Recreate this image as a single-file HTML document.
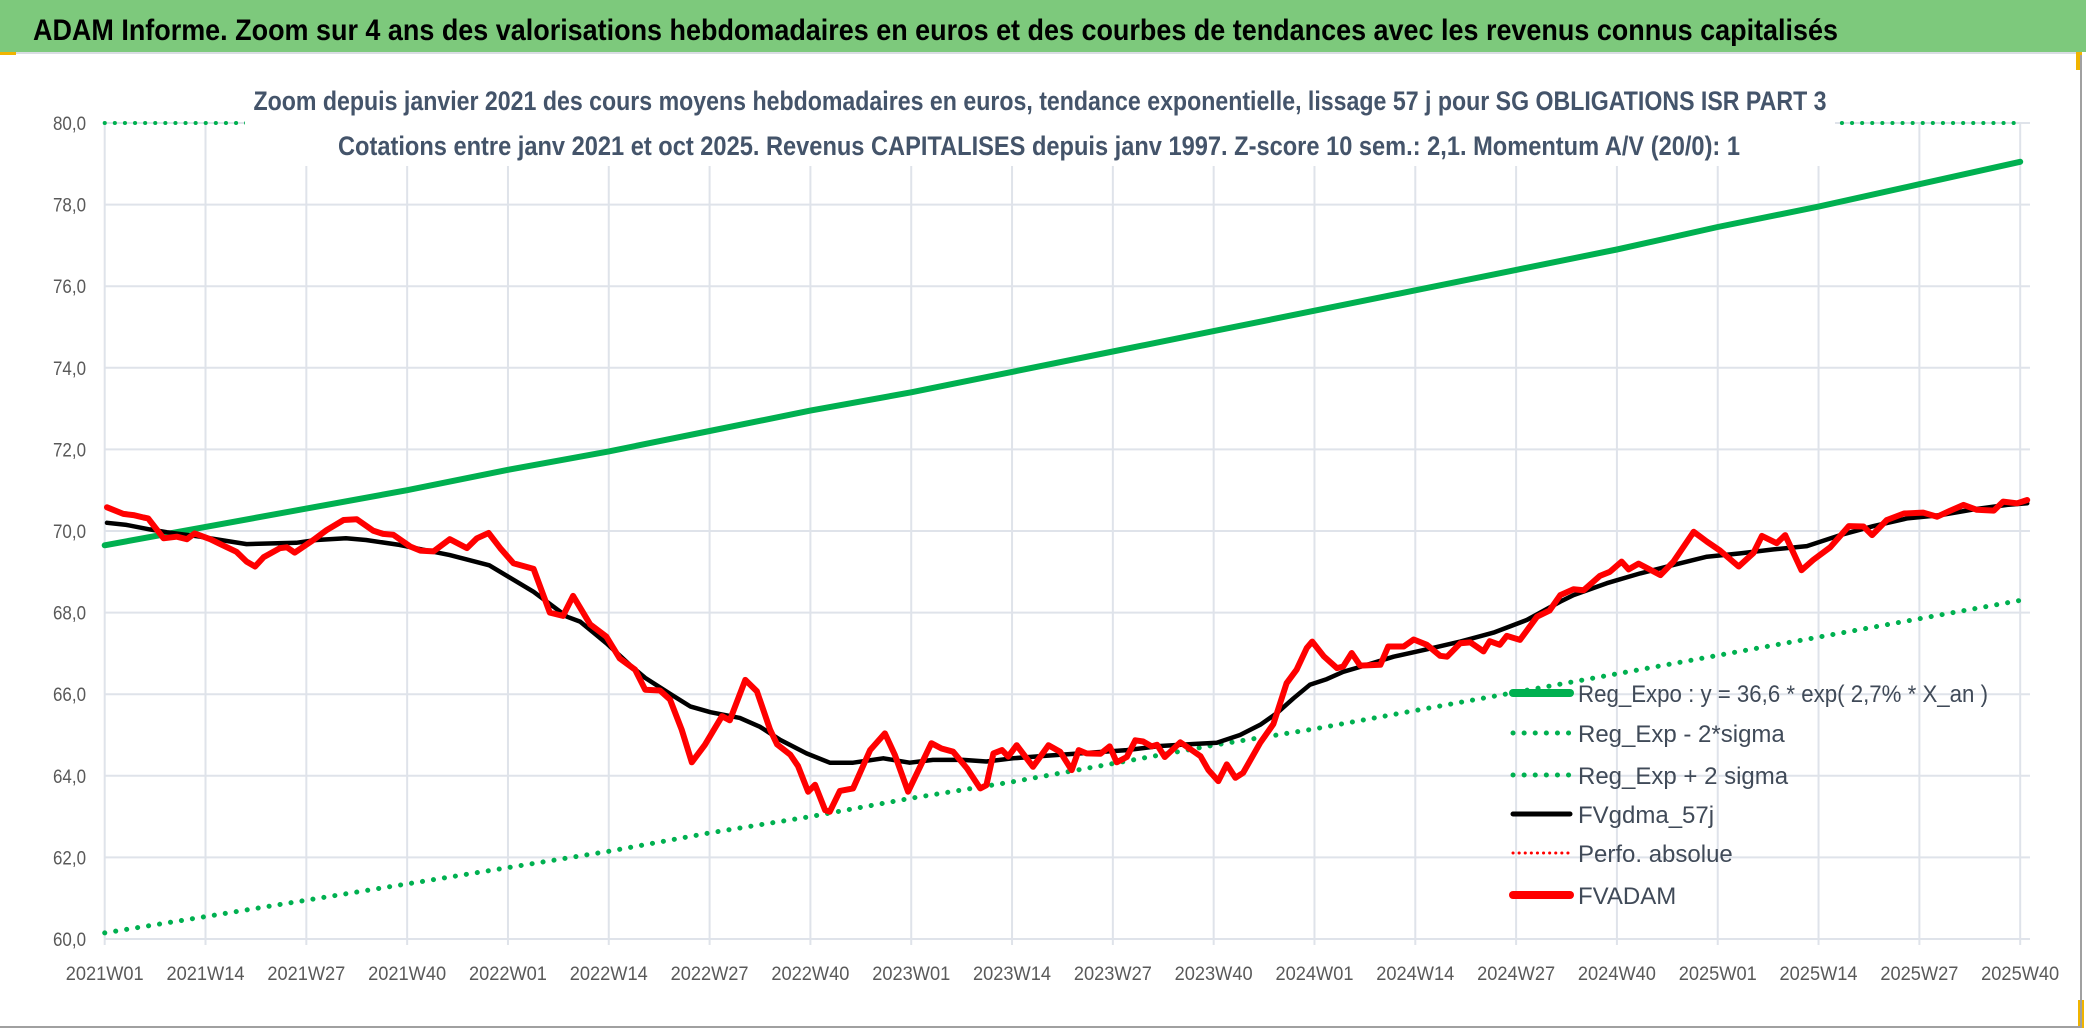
<!DOCTYPE html>
<html><head><meta charset="utf-8"><style>
html,body{margin:0;padding:0;background:#fff;width:2086px;height:1031px;overflow:hidden}
svg{display:block;font-family:"Liberation Sans Narrow","Liberation Sans",sans-serif}
</style></head><body>
<svg id="chart" width="2086" height="1031" viewBox="0 0 2086 1031">
<rect x="0" y="0" width="2086" height="52" fill="#7dc97c"/>
<line x1="0" y1="53" x2="2080" y2="53" stroke="#d9dde3" stroke-width="2"/>
<rect x="0" y="52" width="16" height="3" fill="#f0b400"/>
<rect x="2076" y="52" width="6" height="18" fill="#f0b400"/>
<rect x="2078" y="1000" width="6" height="28" fill="#f0b400"/>
<line x1="0" y1="1027" x2="2080" y2="1027" stroke="#a0a0a0" stroke-width="2"/>
<line x1="2081" y1="55" x2="2081" y2="1028" stroke="#a0a0a0" stroke-width="2"/>
<text x="33" y="40" font-size="30" font-weight="bold" fill="#000" textLength="1805" lengthAdjust="spacingAndGlyphs">ADAM Informe. Zoom sur 4 ans des valorisations hebdomadaires en euros et des courbes de tendances avec les revenus connus capitalisés</text>
<g id="grid"></g><g id="axes"></g><g id="series"></g>
<rect x="245" y="62" width="1590" height="104" fill="#fff"/>
<text x="1040" y="110" text-anchor="middle" font-size="27" font-weight="bold" fill="#44546a" textLength="1573" lengthAdjust="spacingAndGlyphs">Zoom depuis janvier 2021 des cours moyens hebdomadaires en euros, tendance exponentielle, lissage 57 j pour SG OBLIGATIONS ISR PART 3</text>
<text x="1039" y="155" text-anchor="middle" font-size="27" font-weight="bold" fill="#44546a" textLength="1402" lengthAdjust="spacingAndGlyphs">Cotations entre janv 2021 et oct 2025. Revenus CAPITALISES depuis janv 1997. Z-score 10 sem.: 2,1. Momentum A/V (20/0): 1</text>
<g id="legend"></g>
</svg>
<script>
const tickLabels=["2021W01","2021W14","2021W27","2021W40","2022W01","2022W14","2022W27","2022W40","2023W01","2023W14","2023W27","2023W40","2024W01","2024W14","2024W27","2024W40","2025W01","2025W14","2025W27","2025W40"];
const yTicks=[60,62,64,66,68,70,72,74,76,78,80];
const regExpo=[69.65,70.1,70.55,71.0,71.5,71.95,72.45,72.95,73.4,73.9,74.4,74.9,75.4,75.9,76.4,76.9,77.45,77.95,78.5,79.05];
const regLow=[60.15,60.55,60.95,61.35,61.75,62.15,62.6,63.0,63.45,63.85,64.3,64.75,65.15,65.6,66.05,66.5,66.95,67.4,67.85,68.3];
const regHigh=[80,80,80,80,80,80,80,80,80,80,80,80,80,80,80,80,80,80,80,80];
const redW=[0.3,2.4,3.7,5.0,5.6,7.6,9.3,10.6,11.6,13.6,14.9,17.0,18.3,19.4,20.5,22.6,23.5,24.5,26.9,28.6,30.8,32.5,34.6,35.9,37.2,39.4,40.7,42.4,44.5,46.7,48.0,49.5,51.0,52.7,55.3,57.4,59.1,60.4,62.6,64.7,66.4,68.4,69.7,71.6,72.9,74.4,75.7,77.4,79.6,80.6,82.6,84.1,85.8,86.7,88.4,89.4,90.7,91.6,92.9,93.5,94.8,96.5,98.7,100.6,101.9,103.6,106.6,107.9,109.4,111.2,112.9,113.7,114.6,115.7,116.5,117.6,119.7,121.7,123.2,124.7,125.6,126.6,128.4,129.6,130.5,131.8,132.9,133.9,135.0,135.7,136.7,138.7,140.4,141.3,142.3,143.6,144.7,145.8,146.8,149.0,150.7,152.4,153.7,155.0,155.7,157.2,158.9,159.7,160.8,161.9,164.5,165.5,167.5,168.8,170.5,172.2,173.1,174.8,176.1,177.8,178.6,179.9,180.8,182.5,184.7,186.3,187.7,189.4,190.7,192.8,194.1,195.6,196.5,197.8,200.6,202.3,204.9,206.6,208.3,210.7,212.6,213.7,215.6,216.7,218.8,220.3,222.5,224.9,226.8,227.9,229.8,232.0,234.5,236.3,238.0,239.7,241.4,243.6,244.8,246.6,247.9];
const redV=[70.58,70.42,70.39,70.33,70.31,69.82,69.86,69.80,69.94,69.80,69.68,69.49,69.25,69.13,69.36,69.58,69.60,69.47,69.78,70.02,70.27,70.29,70.01,69.93,69.91,69.62,69.52,69.50,69.80,69.58,69.82,69.95,69.58,69.21,69.07,68.00,67.92,68.41,67.71,67.41,66.88,66.60,66.11,66.09,65.87,65.13,64.33,64.76,65.46,65.36,66.35,66.07,65.13,64.77,64.52,64.24,63.61,63.78,63.16,63.12,63.63,63.69,64.63,65.04,64.51,63.61,64.80,64.67,64.59,64.18,63.69,63.77,64.55,64.63,64.47,64.75,64.22,64.75,64.59,64.14,64.63,64.55,64.54,64.72,64.33,64.46,64.87,64.84,64.72,64.76,64.46,64.82,64.60,64.48,64.15,63.87,64.28,63.95,64.07,64.81,65.27,66.27,66.60,67.13,67.29,66.93,66.64,66.68,67.01,66.70,66.72,67.17,67.17,67.34,67.21,66.94,66.92,67.25,67.27,67.05,67.30,67.21,67.43,67.33,67.90,68.05,68.43,68.57,68.55,68.90,69.00,69.25,69.06,69.20,68.92,69.25,69.98,69.74,69.52,69.13,69.46,69.88,69.70,69.90,69.04,69.29,69.60,70.12,70.11,69.90,70.27,70.43,70.45,70.35,70.50,70.64,70.52,70.50,70.72,70.68,70.76];
const blackW=[0.3,2.8,5.8,8.0,12.3,18.3,24.7,27.3,31.1,33.7,38.0,44.5,49.6,55.3,59.6,61.3,64.7,67.7,69.7,72.9,75.5,78.1,81.9,84.5,87.1,90.5,93.5,96.5,100.4,103.8,106.8,110.7,113.7,117.1,121.4,125.8,131.8,136.1,140.4,143.4,146.4,149.0,151.1,153.3,155.4,157.6,159.7,161.9,166.2,170.5,174.8,179.1,183.4,187.7,189.4,193.7,198.0,202.3,206.6,210.9,215.2,219.5,223.8,228.1,232.4,236.7,241.0,245.3,247.9];
const blackV=[70.20,70.15,70.04,69.97,69.86,69.68,69.71,69.78,69.82,69.78,69.66,69.41,69.16,68.51,67.90,67.78,67.25,66.72,66.40,66.01,65.70,65.56,65.42,65.20,64.88,64.55,64.32,64.32,64.43,64.32,64.39,64.39,64.35,64.43,64.49,64.55,64.63,64.73,64.78,64.81,65.00,65.25,65.53,65.90,66.23,66.37,66.55,66.67,66.92,67.10,67.29,67.51,67.82,68.27,68.43,68.72,68.96,69.17,69.37,69.45,69.55,69.63,69.90,70.12,70.31,70.39,70.53,70.64,70.68];
const legendLabels=["Reg_Expo : y = 36,6 * exp( 2,7% *  X_an )","Reg_Exp - 2*sigma","Reg_Exp + 2 sigma","FVgdma_57j","Perfo. absolue","FVADAM"];

const NS="http://www.w3.org/2000/svg";
const X0=104.7,PXW=7.755,Y0=939,PXV=40.8,RIGHT=2030;
const xw=w=>X0+w*PXW;
const yv=v=>Y0-(v-60)*PXV;
function mk(tag,attrs,parent){const e=document.createElementNS(NS,tag);for(const k in attrs)e.setAttribute(k,attrs[k]);parent.appendChild(e);return e;}
const grid=document.getElementById('grid'),axes=document.getElementById('axes'),series=document.getElementById('series'),legend=document.getElementById('legend');
yTicks.forEach(t=>{
  const l=mk('line',{x1:X0,x2:RIGHT,y1:yv(t),y2:yv(t),stroke:'#dfe3ea','stroke-width':2},grid);
  
  
  const tx=mk('text',{x:86,y:yv(t)+7,'text-anchor':'end','font-size':19,fill:'#595959',textLength:33,lengthAdjust:'spacingAndGlyphs'},axes);
  tx.textContent=t.toFixed(1).replace('.',',');
  
  
});
tickLabels.forEach((s,i)=>{
  const x=xw(i*13);
  const l=mk('line',{x1:x,x2:x,y1:yv(80),y2:Y0+6,stroke:'#dfe3ea','stroke-width':2},grid);
  
  
  const tx=mk('text',{x:x,y:980,'text-anchor':'middle','font-size':19,fill:'#595959',textLength:78,lengthAdjust:'spacingAndGlyphs'},axes);
  tx.textContent=s;
  
  
});
function path(ws,vs,attrs,name){
  const d=ws.map((w,i)=>(i?'L':'M')+xw(w).toFixed(1)+','+yv(vs[i]).toFixed(1)).join('');
  const p=mk('path',Object.assign({d:d,fill:'none','stroke-linejoin':'round','stroke-linecap':'round'},attrs),series);
  
  
}
const tw=tickLabels.map((s,i)=>i*13);
path(tw,regHigh,{stroke:'#00b050','stroke-width':4,'stroke-dasharray':'0.1 10'},'reg-exp-plus-2sigma-line');
path(tw,regLow,{stroke:'#00b050','stroke-width':5,'stroke-dasharray':'0.1 11'},'reg-exp-minus-2sigma-line');
path(tw,regExpo,{stroke:'#00b050','stroke-width':6},'reg-expo-line');
path(blackW,blackV,{stroke:'#000','stroke-width':4.5},'fvgdma-57j-line');
path(redW,redV,{stroke:'#ff0000','stroke-width':6},'fvadam-line');
const styles=[{stroke:'#00b050','stroke-width':8},{stroke:'#00b050','stroke-width':5,'stroke-dasharray':'0.1 11'},{stroke:'#00b050','stroke-width':5,'stroke-dasharray':'0.1 11'},{stroke:'#000','stroke-width':5},{stroke:'#ff0000','stroke-width':3,'stroke-dasharray':'0.1 6'},{stroke:'#ff0000','stroke-width':8}];
const rows=[693,733,775,814,853,895];
legendLabels.forEach((s,i)=>{
  const g=mk('g',{},legend);
  
  
  mk('line',Object.assign({x1:1513,x2:1570,y1:rows[i],y2:rows[i],'stroke-linecap':'round'},styles[i]),g);
  const t=mk('text',{x:1578,y:rows[i]+9,'font-size':24,fill:'#404a58'},g);
  t.textContent=s;
  if(i===0)t.setAttribute('textLength','410');
  t.setAttribute('lengthAdjust','spacingAndGlyphs');
});
</script>
</body></html>
